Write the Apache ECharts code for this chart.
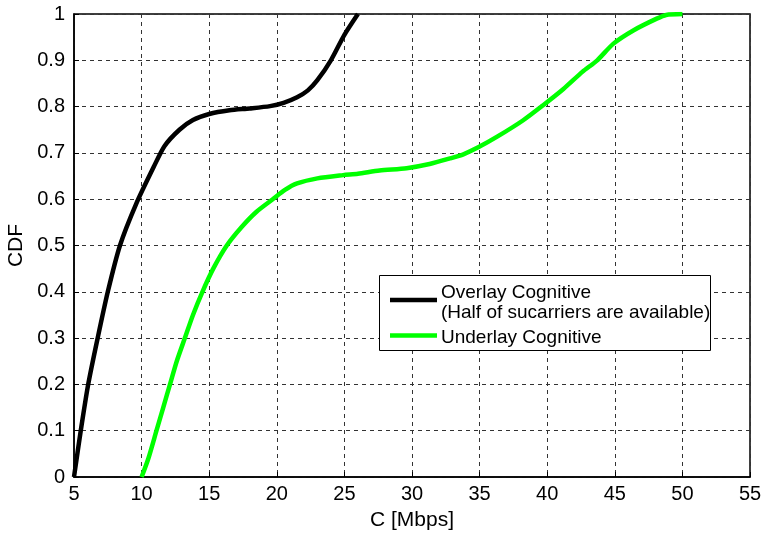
<!DOCTYPE html>
<html>
<head>
<meta charset="utf-8">
<script src="https://cdn.jsdelivr.net/npm/echarts@6/dist/echarts.min.js"></script>
<style>html,body{margin:0;padding:0;background:#fff}#c{width:763px;height:536px}</style>
</head>
<body>
<div id="c"></div>
<script>
var xTicks = [5, 10, 15, 20, 25, 30, 35, 40, 45, 50, 55];
var yTicks = [0, 0.1, 0.2, 0.3, 0.4, 0.5, 0.6, 0.7, 0.8, 0.9, 1];
var overlayName = "Overlay Cognitive";
var overlayName2 = "(Half of sucarriers are available)";
var underlayName = "Underlay Cognitive";
var overlayX = [5, 5.5, 6.05, 6.75, 7.5, 8.4, 9.6, 10.9, 11.7, 12.8, 13.8, 15, 16.5, 18, 19.5, 20.5, 21.5, 22.3, 23, 24, 25, 26];
var overlayY = [0, 0.1, 0.2, 0.3, 0.4, 0.5, 0.59, 0.67, 0.715, 0.75, 0.771, 0.784, 0.792, 0.796, 0.801, 0.808, 0.82, 0.835, 0.857, 0.90, 0.955, 1.0];
var underlayX = [10, 10.5, 11.1, 11.6, 12.1, 12.6, 13.2, 13.8, 14.5, 15.3, 16.3, 17.4, 18.5, 19.7, 20.6, 21.5, 23, 24.9, 26, 27.6, 29.6, 31.3, 32.8, 33.8, 34.9, 36.3, 38.2, 39.7, 41.2, 42.6, 43.7, 44.9, 46.4, 48.1, 48.8, 50];
var underlayY = [0, 0.04, 0.10, 0.15, 0.20, 0.25, 0.30, 0.35, 0.40, 0.45, 0.50, 0.54, 0.573, 0.60, 0.62, 0.634, 0.645, 0.652, 0.655, 0.662, 0.667, 0.676, 0.688, 0.697, 0.712, 0.735, 0.77, 0.803, 0.838, 0.875, 0.90, 0.936, 0.965, 0.99, 0.998, 1.0];

function pairs(xs, ys) { return xs.map(function (x, i) { return [x, ys[i]]; }); }

var FONT = "Liberation Sans";
var chart = echarts.init(document.getElementById('c'), null, {renderer: 'canvas'});
var gridLine = {show: true, lineStyle: {color: '#333', type: [4, 4], width: 1}};
var option = {
  animation: false,
  backgroundColor: '#fff',
  grid: {left: 74, right: 13, top: 14, bottom: 59, containLabel: false, outerBoundsMode: 'none',
    show: true, borderColor: '#000', borderWidth: 1.5, backgroundColor: 'transparent'},
  xAxis: {
    type: 'value', min: xTicks[0], max: xTicks[xTicks.length - 1], interval: 5,
    name: 'C [Mbps]', nameLocation: 'middle', nameGap: 33,
    nameTextStyle: {fontFamily: FONT, fontSize: 21, color: '#000'},
    axisLine: {show: true, onZero: false, lineStyle: {color: '#000', width: 1.5}},
    axisTick: {show: true, inside: true, length: 5, lineStyle: {color: '#000'}},
    axisLabel: {fontFamily: FONT, fontSize: 20, color: '#000', margin: 7},
    splitLine: gridLine
  },
  yAxis: {
    type: 'value', min: yTicks[0], max: yTicks[yTicks.length - 1], interval: 0.1,
    name: 'CDF', nameLocation: 'middle', nameGap: 45, nameRotate: 90,
    nameTextStyle: {fontFamily: FONT, fontSize: 21, color: '#000'},
    axisLine: {show: true, onZero: false, lineStyle: {color: '#000', width: 1.5}},
    axisTick: {show: true, inside: true, length: 5, lineStyle: {color: '#000'}},
    axisLabel: {fontFamily: FONT, fontSize: 20, color: '#000', margin: 9,
      formatter: function (v) { return String(Math.round(v * 10) / 10); }},
    splitLine: gridLine
  },
  series: [
    {type: 'line', name: overlayName, data: pairs(overlayX, overlayY), showSymbol: false, smooth: 0.25,
      lineStyle: {color: '#000', width: 4.5}, z: 3},
    {type: 'line', name: underlayName, data: pairs(underlayX, underlayY), showSymbol: false, smooth: 0.25,
      lineStyle: {color: '#00ff00', width: 4.5}, z: 3}
  ],
  graphic: [
    {type: 'rect', left: 379, top: 275, shape: {width: 331, height: 75}, style: {fill: '#fff', stroke: '#000', lineWidth: 1}, z: 10},
    {type: 'line', shape: {x1: 390, y1: 300, x2: 437, y2: 300}, style: {stroke: '#000', lineWidth: 4.5}, z: 11},
    {type: 'line', shape: {x1: 390, y1: 335.5, x2: 437, y2: 335.5}, style: {stroke: '#00ff00', lineWidth: 4.5}, z: 11},
    {type: 'text', x: 441, y: 292.5, style: {text: overlayName, font: '19px "Liberation Sans"', fill: '#000', verticalAlign: 'middle'}, z: 11},
    {type: 'text', x: 441, y: 312.5, style: {text: overlayName2, font: '19px "Liberation Sans"', fill: '#000', verticalAlign: 'middle'}, z: 11},
    {type: 'text', x: 441, y: 338, style: {text: underlayName, font: '19px "Liberation Sans"', fill: '#000', verticalAlign: 'middle'}, z: 11}
  ]
};
chart.setOption(option);
</script>
</body>
</html>
